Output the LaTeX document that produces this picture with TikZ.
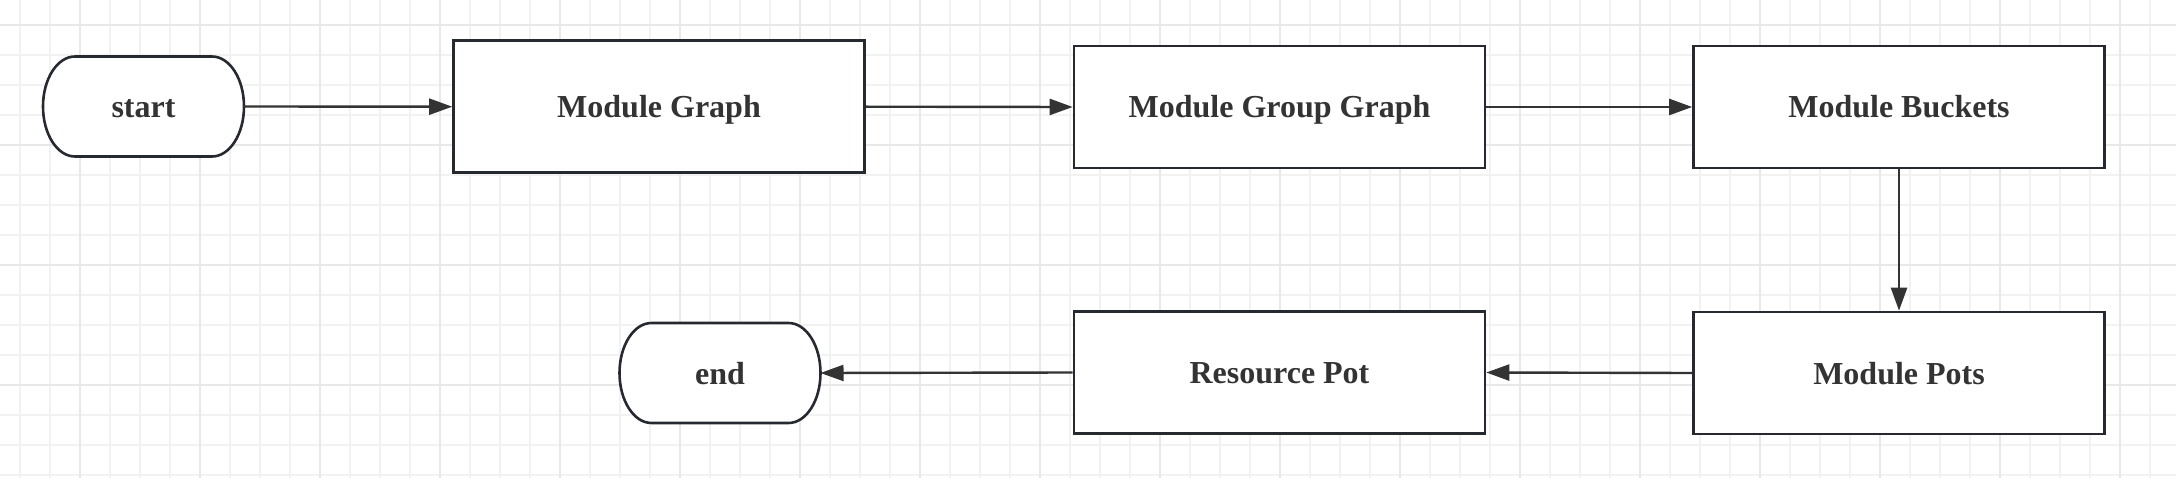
\documentclass[tikz,border=0pt]{standalone}
\usepackage{fontspec}
\setmainfont{Liberation Serif}
\usetikzlibrary{arrows.meta}
\definecolor{gridminor}{HTML}{F2F2F2}
\definecolor{gridmajor}{HTML}{E8E8E8}
\definecolor{boxcol}{HTML}{262A30}
\definecolor{txtcol}{HTML}{333333}
\tikzset{
  boxline/.style={draw=boxcol, line width=2.6pt},
  lbl/.style={text=txtcol, font=\fontsize{32}{38}\selectfont\bfseries, text height=27pt, text depth=5pt},
  procbox/.style={boxline, rectangle, fill=white, minimum width=411pt, minimum height=122pt,
    inner sep=0pt, lbl},
  termbox/.style={rectangle, draw=none, minimum width=201pt, minimum height=100pt,
    inner sep=0pt, outer sep=0pt, lbl},
  flow/.style={draw=txtcol, line width=2.4pt, -{Triangle[length=23pt,width=16pt]}},
}
\newcommand\termoutline[1]{%
  \draw[boxline, fill=white] ([xshift=32pt]#1.north west) -- ([xshift=-32pt]#1.north east)
    arc[start angle=90, end angle=-90, x radius=32pt, y radius=50pt]
    -- ([xshift=32pt]#1.south west)
    arc[start angle=270, end angle=90, x radius=32pt, y radius=50pt] -- cycle;}
\begin{document}
\begin{tikzpicture}[x=1pt, y=-1pt]
\useasboundingbox (0,0) rectangle (2176,478);
\fill[white] (0,0) rectangle (2176,478);
% grid
\foreach \gx in {20,50,...,2180} \draw[gridminor, line width=1.2pt] (\gx,0) -- (\gx,478);
\foreach \gy in {25,55,...,475} \draw[gridminor, line width=1.2pt] (0,\gy) -- (2176,\gy);
\foreach \gx in {80,200,...,2180} \draw[gridmajor, line width=2pt] (\gx,0) -- (\gx,478);
\foreach \gy in {25,145,...,475} \draw[gridmajor, line width=2pt] (0,\gy) -- (2176,\gy);
% nodes
\node[termbox] (start) at (143.5,106.5) {};
\termoutline{start}
\node[termbox] (startlbl) at (start.center) {start};
\node[procbox, minimum height=132pt] (mg) at (659,106.7) {Module Graph};
\node[procbox] (mgg) at (1279.5,107) {Module Group Graph};
\node[procbox] (mb) at (1899,107) {Module Buckets};
\node[procbox] (mp) at (1899,373) {Module Pots};
\node[procbox] (rp) at (1279.5,372.5) {Resource Pot};
\node[termbox] (end) at (720,373) {};
\termoutline{end}
\node[termbox] (endlbl) at (end.center) {end};
% connectors
\draw[flow] (start.east) -- (mg.west);
\draw[flow] (mg.east) -- (mgg.west);
\draw[flow] (mgg.east) -- (mb.west);
\draw[flow] (mb.south) -- (mp.north);
\draw[flow] (mp.west) -- (rp.east);
\draw[flow] (rp.west) -- (end.east);
\end{tikzpicture}
\end{document}
